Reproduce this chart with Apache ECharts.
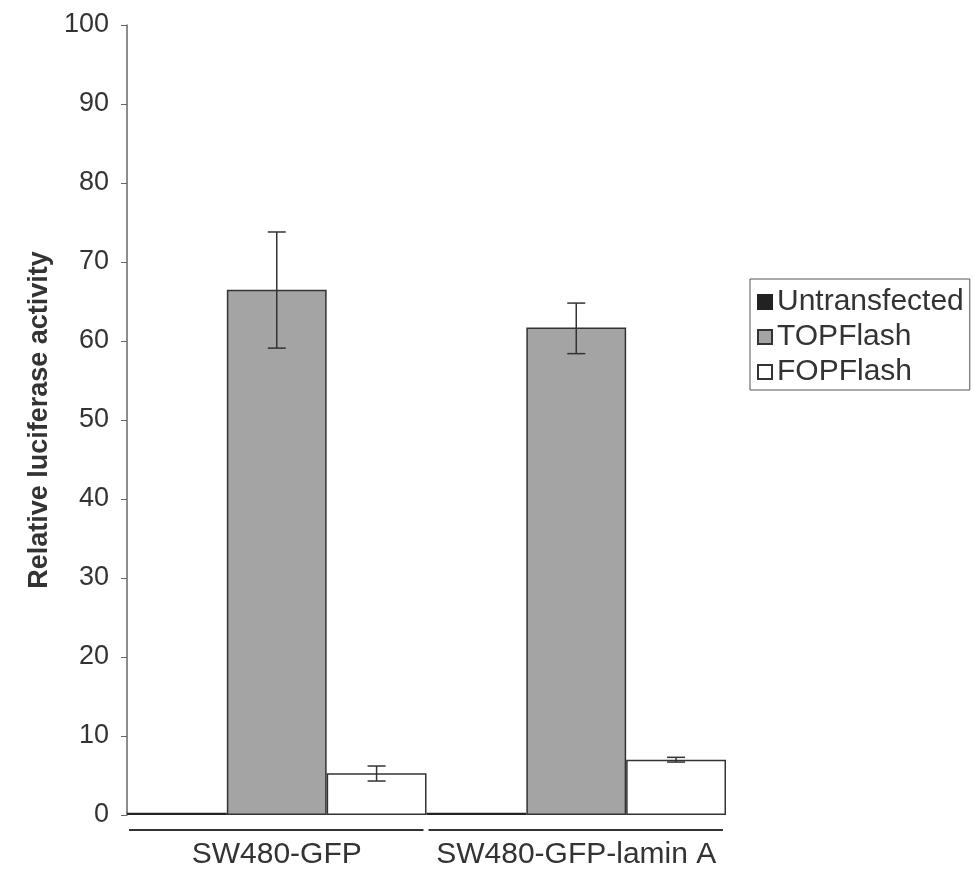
<!DOCTYPE html>
<html>
<head>
<meta charset="utf-8">
<script src="https://cdn.jsdelivr.net/npm/echarts@6/dist/echarts.min.js"></script>
<style>
    html, body { margin: 0; padding: 0; background: #fff; }
    #chart { width: 974px; height: 874px; }
</style>
</head>
<body>
<div id="chart"></div>
<script>
var categories = ['SW480-GFP', 'SW480-GFP-lamin A'];
var seriesNames = ['Untransfected', 'TOPFlash', 'FOPFlash'];
var untransfected = [0.3, 0.3];
var topflash = [66.5, 61.7];
var fopflash = [5.3, 7.0];
// error bar ranges [low, high]
var topErr = [[59.1, 73.8], [58.4, 64.8]];
var fopErr = [[4.3, 6.2], [6.7, 7.3]];
var yTicks = { min: 0, max: 100, step: 10 };

var font = '"Liberation Sans", Arial, sans-serif';

(function () {
    var chart = echarts.init(document.getElementById('chart'));

    // error bar data: [category index, slot offset (-1,0,1), low, high]
    var errData = [];
    for (var i = 0; i < categories.length; i++) {
        errData.push([i, 0, topErr[i][0], topErr[i][1]]);
        errData.push([i, 1, fopErr[i][0], fopErr[i][1]]);
    }

    var renderErr = function (params, api) {
        var band = api.size([1, 0])[0];
        var off = api.value(1) * band / 3;
        var lo = api.coord([api.value(0), api.value(2)]);
        var hi = api.coord([api.value(0), api.value(3)]);
        var x = lo[0] + off;
        var cap = 9;
        var st = { stroke: '#333', lineWidth: 1.5 };
        return {
            type: 'group',
            children: [
                { type: 'line', shape: { x1: x, y1: lo[1], x2: x, y2: hi[1] }, style: st },
                { type: 'line', shape: { x1: x - cap, y1: lo[1], x2: x + cap, y2: lo[1] }, style: st },
                { type: 'line', shape: { x1: x - cap, y1: hi[1], x2: x + cap, y2: hi[1] }, style: st }
            ]
        };
    };

    // grouping lines under each category (Excel-style)
    var renderGroupLine = function (params, api) {
        var band = api.size([1, 0])[0];
        var p = api.coord([api.value(0), 0]);
        var y = p[1] + 15;
        return {
            type: 'line',
            shape: { x1: p[0] - band / 2 + 2, y1: y, x2: p[0] + band / 2 - 3, y2: y },
            style: { stroke: '#333', lineWidth: 2 }
        };
    };

    var option = {
        animation: false,
        textStyle: { fontFamily: font },
        grid: { left: 127, right: 248, top: 25, bottom: 59 },
        legend: {
            orient: 'vertical',
            left: 750,
            top: 279,
            padding: [8, 6, 3, 7],
            itemGap: 5,
            itemWidth: 14,
            itemHeight: 14,
            icon: 'rect',
            borderColor: '#555',
            borderWidth: 1,
            data: seriesNames,
            textStyle: { fontSize: 30, color: '#333', fontFamily: font }
        },
        xAxis: {
            type: 'category',
            data: categories,
            axisLine: { show: false },
            axisTick: { show: false },
            axisLabel: { fontSize: 30, color: '#333', margin: 25, interval: 0 }
        },
        yAxis: {
            type: 'value',
            min: yTicks.min,
            max: yTicks.max,
            interval: yTicks.step,
            name: 'Relative luciferase activity',
            nameLocation: 'middle',
            nameGap: 69,
            nameTextStyle: { fontSize: 27, color: '#333', fontWeight: 'bold', fontFamily: font },
            axisLine: { show: true, lineStyle: { color: '#666', width: 1.5 } },
            axisTick: { show: true, length: 6, lineStyle: { color: '#666' } },
            axisLabel: { fontSize: 27, color: '#333', margin: 18 },
            splitLine: { show: false }
        },
        series: [
            {
                name: seriesNames[0], type: 'bar', data: untransfected,
                barGap: '0%', barCategoryGap: '0%',
                itemStyle: { color: '#222', borderColor: '#222', borderWidth: 1.5 }
            },
            {
                name: seriesNames[1], type: 'bar', data: topflash,
                barGap: '0%', barCategoryGap: '0%',
                itemStyle: { color: '#a4a4a4', borderColor: '#333', borderWidth: 1.5 }
            },
            {
                name: seriesNames[2], type: 'bar', data: fopflash,
                barGap: '0%', barCategoryGap: '0%',
                itemStyle: { color: '#fff', borderColor: '#333', borderWidth: 1.5 }
            },
            {
                type: 'custom', renderItem: renderErr, data: errData,
                encode: { x: 0, y: [2, 3] }, z: 5, silent: true
            },
            {
                type: 'custom', renderItem: renderGroupLine, data: [[0], [1]],
                encode: { x: 0 }, clip: false, silent: true
            }
        ]
    };
    chart.setOption(option);
})();
</script>
</body>
</html>
